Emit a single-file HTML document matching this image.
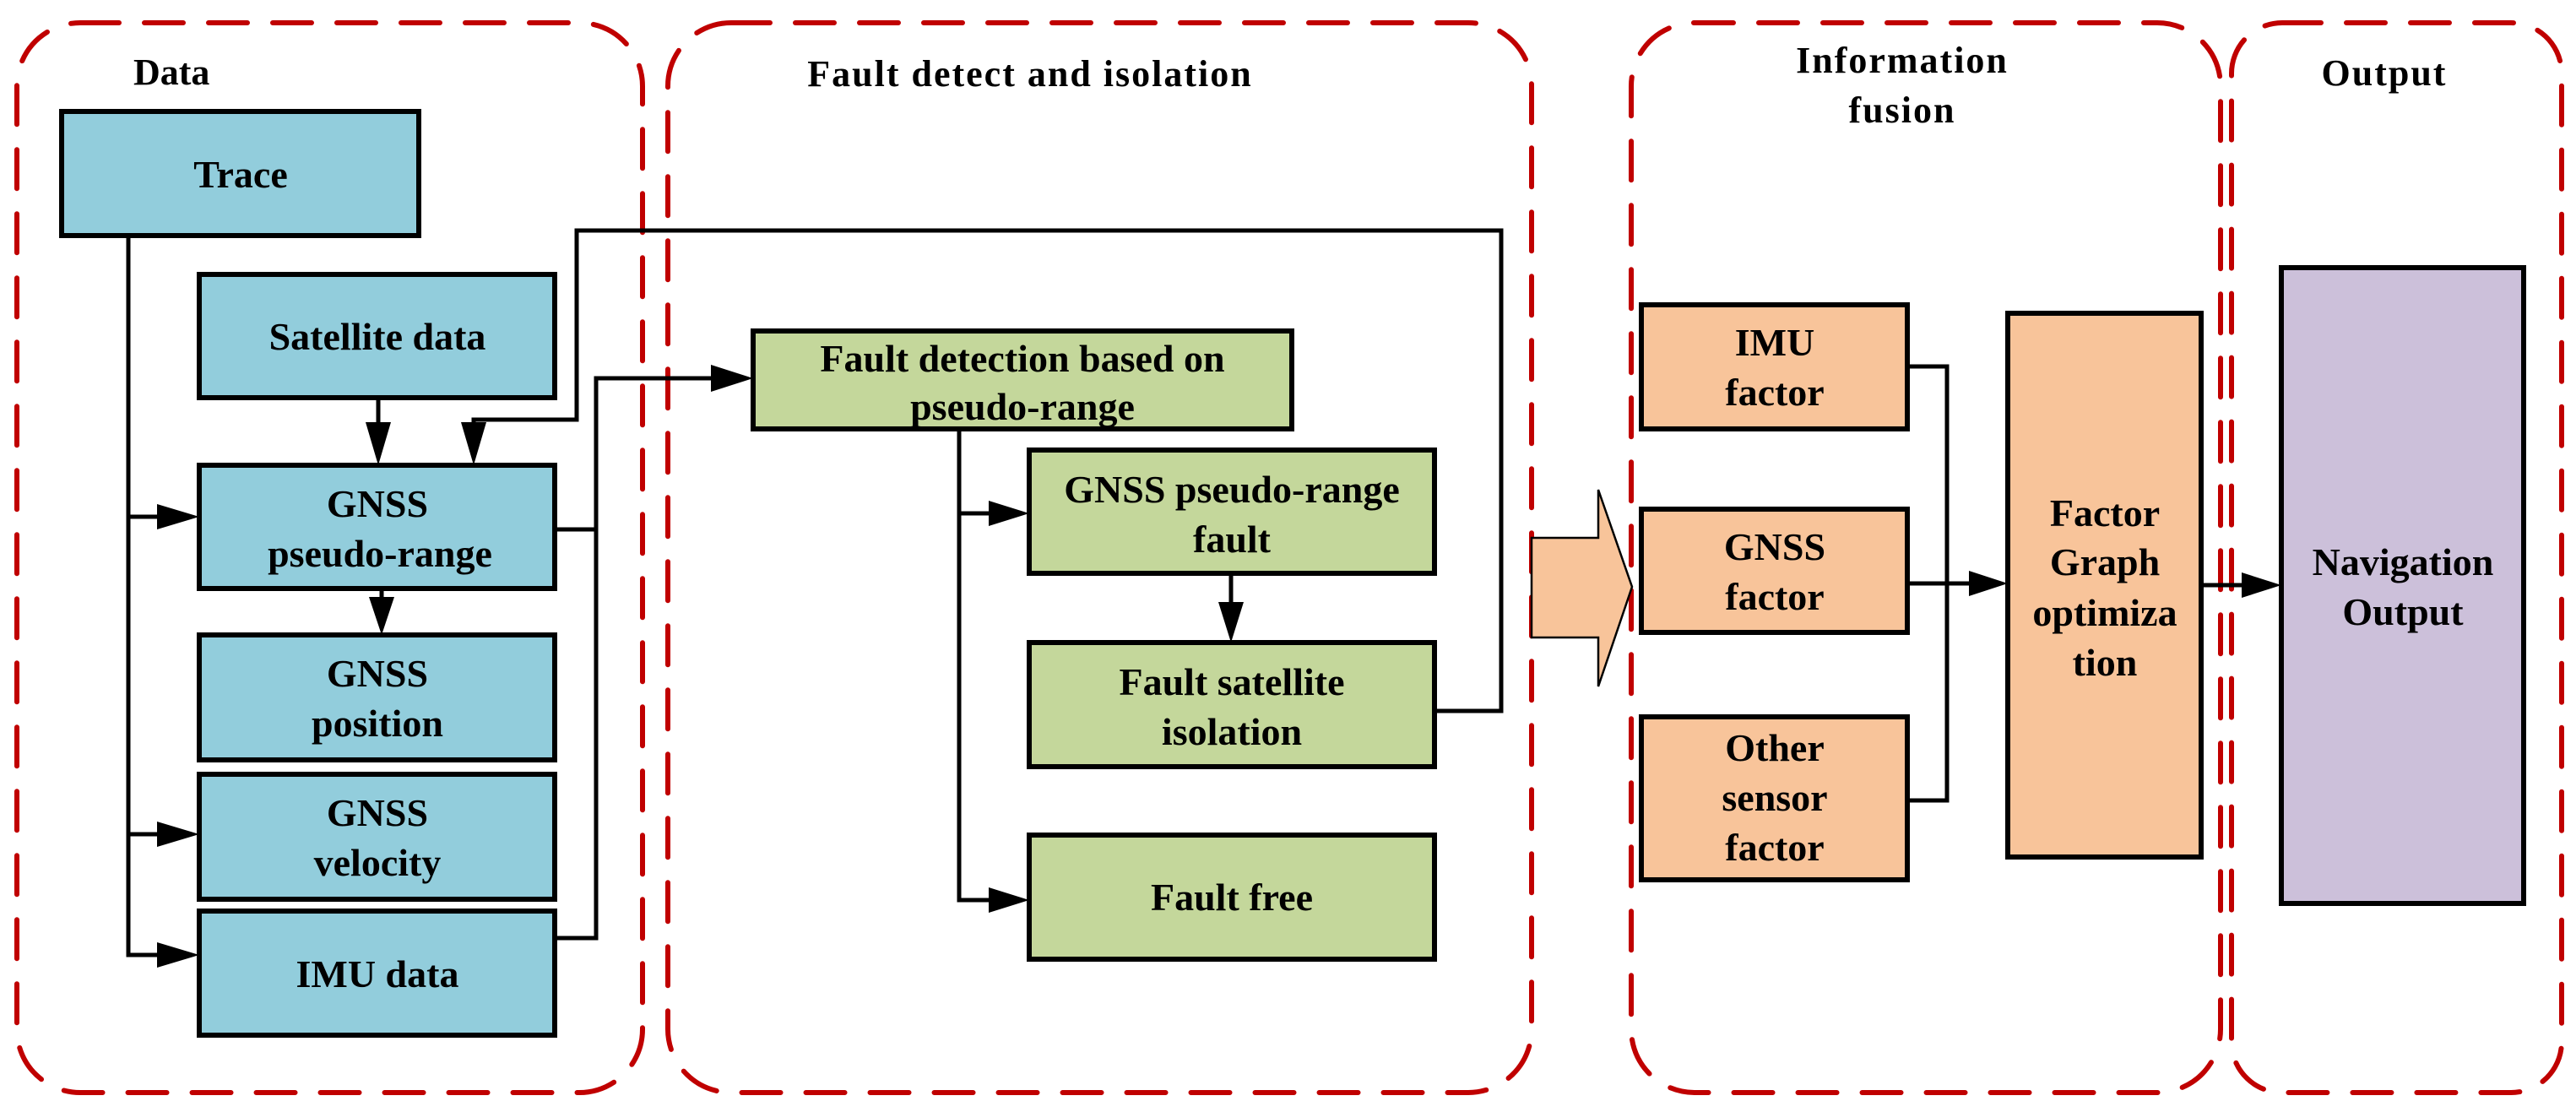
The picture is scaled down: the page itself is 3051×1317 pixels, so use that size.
<!DOCTYPE html>
<html><head><meta charset="utf-8"><style>
html,body{margin:0;padding:0;background:#fff;}
svg{display:block;}
text{font-family:"Liberation Serif",serif;font-weight:bold;fill:#000;}
</style></head><body>
<svg width="3051" height="1317" viewBox="0 0 3051 1317" xmlns="http://www.w3.org/2000/svg">
<defs>
<marker id="ah" markerWidth="10" markerHeight="10" refX="10" refY="5" orient="auto" markerUnits="userSpaceOnUse" viewBox="0 0 10 10">
</marker>
</defs>
<!-- containers -->
<g fill="none" stroke="#c00000" stroke-width="6" stroke-dasharray="46,30" stroke-linecap="round">
<rect x="20" y="27" width="741" height="1267" rx="75"/>
<rect x="791" y="27" width="1023" height="1267" rx="75"/>
<rect x="1932" y="27" width="698" height="1267" rx="75"/>
<rect x="2643" y="27" width="391" height="1267" rx="60"/>
</g>
<!-- titles -->
<text x="158" y="100" font-size="44">Data</text>
<text x="1220" y="102" font-size="44" text-anchor="middle" letter-spacing="2">Fault detect and isolation</text>
<text x="2253" y="86" font-size="44" text-anchor="middle" letter-spacing="2">Information</text>
<text x="2253" y="145" font-size="44" text-anchor="middle" letter-spacing="2">fusion</text>
<text x="2824" y="101" font-size="44" text-anchor="middle" letter-spacing="2">Output</text>

<!-- connectors -->
<g fill="none" stroke="#000" stroke-width="5">
<polyline points="152,279 152,1131 190,1131"/>
<line x1="152" y1="612" x2="190" y2="612"/>
<line x1="152" y1="988" x2="190" y2="988"/>
<line x1="448" y1="471" x2="448" y2="505"/>
<line x1="452" y1="697" x2="452" y2="712"/>
<polyline points="1699,842 1778,842 1778,273 683,273 683,497 561,497 561,505"/>
<polyline points="657,627 706,627"/>
<polyline points="657,1111 706,1111 706,448 846,448"/>
<polyline points="1136,508 1136,1066 1175,1066"/>
<line x1="1136" y1="608" x2="1175" y2="608"/>
<line x1="1458" y1="679" x2="1458" y2="715"/>
<polyline points="2259,434 2306,434 2306,948 2259,948"/>
<line x1="2259" y1="691" x2="2336" y2="691"/>
<line x1="2607" y1="693" x2="2658" y2="693"/>
</g>
<!-- arrowheads -->
<g fill="#000">
<polygon points="186,597 236,612 186,627"/>
<polygon points="186,973 236,988 186,1003"/>
<polygon points="186,1116 236,1131 186,1146"/>
<polygon points="433,500 448,551 463,500"/>
<polygon points="546,500 561,551 576,500"/>
<polygon points="437,707 452,752 467,707"/>
<polygon points="842,432 892,448 842,464"/>
<polygon points="1171,593 1219,608 1171,623"/>
<polygon points="1171,1051 1219,1066 1171,1081"/>
<polygon points="1443,713 1458,761 1473,713"/>
<polygon points="2332,676 2378,691 2332,706"/>
<polygon points="2655,678 2702,693 2655,708"/>
</g>
<!-- big arrow -->
<polygon points="1814,637 1893,637 1893,580 1933,695 1893,813 1893,755 1814,755" fill="#f8c49a" stroke="#000" stroke-width="2.5"/>

<!-- boxes -->
<g stroke="#000" stroke-width="6">
<rect x="73" y="132" width="423" height="147" fill="#92cddc"/>
<rect x="236" y="325" width="421" height="146" fill="#92cddc"/>
<rect x="236" y="551" width="421" height="146" fill="#92cddc"/>
<rect x="236" y="752" width="421" height="148" fill="#92cddc"/>
<rect x="236" y="917" width="421" height="148" fill="#92cddc"/>
<rect x="236" y="1079" width="421" height="147" fill="#92cddc"/>
<rect x="892" y="392" width="638" height="116" fill="#c4d79b"/>
<rect x="1219" y="533" width="480" height="146" fill="#c4d79b"/>
<rect x="1219" y="761" width="480" height="147" fill="#c4d79b"/>
<rect x="1219" y="989" width="480" height="147" fill="#c4d79b"/>
<rect x="1944" y="361" width="315" height="147" fill="#f8c49a"/>
<rect x="1944" y="603" width="315" height="146" fill="#f8c49a"/>
<rect x="1944" y="849" width="315" height="193" fill="#f8c49a"/>
<rect x="2378" y="371" width="229" height="644" fill="#f8c49a"/>
<rect x="2702" y="317" width="287" height="753" fill="#ccc0da"/>
</g>

<!-- box texts -->
<g font-size="46" text-anchor="middle">
<text x="285" y="222">Trace</text>
<text x="447" y="414">Satellite data</text>
<text x="447" y="612">GNSS</text>
<text x="450" y="671">pseudo-range</text>
<text x="447" y="813">GNSS</text>
<text x="447" y="872">position</text>
<text x="447" y="978">GNSS</text>
<text x="447" y="1037">velocity</text>
<text x="447" y="1169">IMU data</text>
<text x="1211" y="440">Fault detection based on</text>
<text x="1211" y="497">pseudo-range</text>
<text x="1459" y="595">GNSS pseudo-range</text>
<text x="1459" y="654">fault</text>
<text x="1459" y="823">Fault satellite</text>
<text x="1459" y="882">isolation</text>
<text x="1459" y="1078">Fault free</text>
<text x="2102" y="421">IMU</text>
<text x="2102" y="480">factor</text>
<text x="2102" y="663">GNSS</text>
<text x="2102" y="722">factor</text>
<text x="2102" y="901">Other</text>
<text x="2102" y="960">sensor</text>
<text x="2102" y="1019">factor</text>
<text x="2493" y="623">Factor</text>
<text x="2493" y="681">Graph</text>
<text x="2493" y="741">optimiza</text>
<text x="2493" y="800">tion</text>
<text x="2846" y="681">Navigation</text>
<text x="2846" y="740">Output</text>
</g>
</svg>
</body></html>
